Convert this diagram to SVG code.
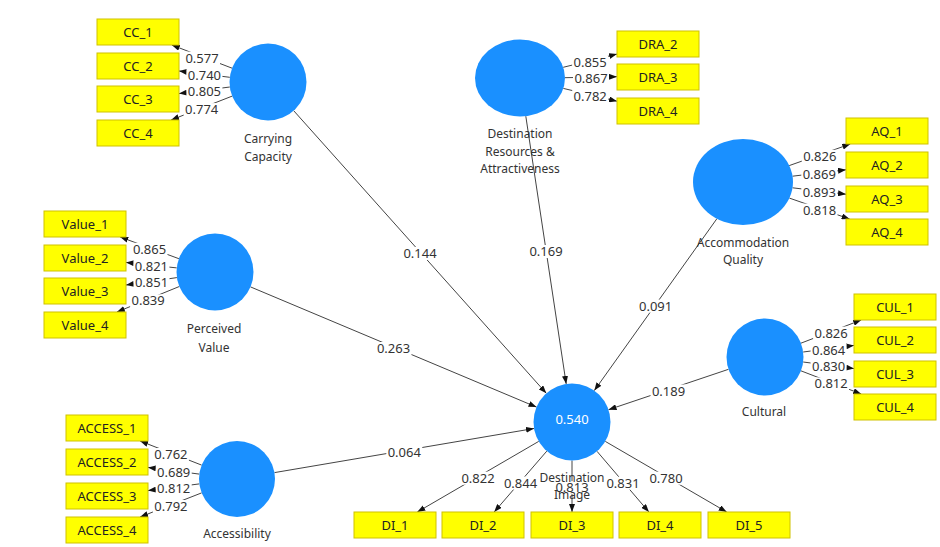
<svg xmlns="http://www.w3.org/2000/svg" width="940" height="547" viewBox="0 0 940 547">
<defs>
<marker id="ah" viewBox="0 0 8 6" refX="8" refY="3" markerWidth="8" markerHeight="6" markerUnits="userSpaceOnUse" orient="auto"><path d="M0,0 L8,3 L0,6 z" fill="#111"/></marker>
</defs>
<style>
.c{stroke:#444;stroke-width:1;fill:none;marker-end:url(#ah)}
.lb{fill:#fff}
.lt{font-family:"Segoe UI","Noto Sans",sans-serif;font-size:13px;fill:#333;text-anchor:middle}
.lv{fill:#1a90ff}
.ind{fill:#ffff00;stroke:#cfc200;stroke-width:1}
.it{font-family:"Segoe UI","Noto Sans",sans-serif;font-size:13px;fill:#222;text-anchor:middle}
.nt{font-family:"Segoe UI","Noto Sans",sans-serif;font-size:12px;fill:#333;text-anchor:middle}
.r2{font-family:"Segoe UI","Noto Sans",sans-serif;font-size:13px;fill:#fff;text-anchor:middle}
</style>
<rect width="940" height="547" fill="#fff"/>
<g id="connectors">
<line class="c" x1="232.1" y1="68.2" x2="171.8" y2="45"/>
<line class="c" x1="229.8" y1="77.3" x2="179" y2="71"/>
<line class="c" x1="229.8" y1="87" x2="179" y2="93.6"/>
<line class="c" x1="232.2" y1="96.1" x2="171.1" y2="120"/>
<line class="c" x1="563.2" y1="67.3" x2="617" y2="54.1"/>
<line class="c" x1="565" y1="77.7" x2="617" y2="76.7"/>
<line class="c" x1="563.3" y1="88.4" x2="617" y2="101.2"/>
<line class="c" x1="789.2" y1="165.6" x2="850.3" y2="144"/>
<line class="c" x1="792.5" y1="176.2" x2="846" y2="169.8"/>
<line class="c" x1="792.5" y1="187.8" x2="846" y2="194.2"/>
<line class="c" x1="789.4" y1="198.1" x2="849.6" y2="219"/>
<line class="c" x1="178.9" y1="258.7" x2="120.2" y2="237"/>
<line class="c" x1="176.7" y1="267.9" x2="126" y2="262.4"/>
<line class="c" x1="176.9" y1="277.6" x2="126" y2="285"/>
<line class="c" x1="179.3" y1="286.5" x2="116.9" y2="312"/>
<line class="c" x1="800.9" y1="343.2" x2="861.2" y2="320"/>
<line class="c" x1="803.2" y1="352" x2="854" y2="345.4"/>
<line class="c" x1="803.2" y1="362" x2="854" y2="368.6"/>
<line class="c" x1="800.9" y1="370.8" x2="861.2" y2="394"/>
<line class="c" x1="201.6" y1="465.1" x2="140.1" y2="441"/>
<line class="c" x1="199.3" y1="474.1" x2="148" y2="467.4"/>
<line class="c" x1="199.3" y1="483.9" x2="148" y2="490.6"/>
<line class="c" x1="201.6" y1="492.9" x2="140.1" y2="517"/>
<line class="c" x1="538.7" y1="441.4" x2="417.3" y2="512"/>
<line class="c" x1="546.8" y1="451.1" x2="494.2" y2="512"/>
<line class="c" x1="572" y1="460.5" x2="572" y2="512"/>
<line class="c" x1="597" y1="451.3" x2="648.9" y2="512"/>
<line class="c" x1="605.3" y1="441.4" x2="726.7" y2="512"/>
<line class="c" x1="293.7" y1="110.7" x2="546.3" y2="393.3"/>
<line class="c" x1="525.8" y1="116.2" x2="566.2" y2="383.9"/>
<line class="c" x1="716.9" y1="218.7" x2="594.3" y2="390.6"/>
<line class="c" x1="250.5" y1="286.9" x2="536.5" y2="407.1"/>
<line class="c" x1="728.5" y1="369.3" x2="608.5" y2="409.7"/>
<line class="c" x1="274.5" y1="472.6" x2="534" y2="428.5"/>
<g id="connector-labels">
<rect class="lb" x="184" y="51.6" width="36" height="13"/><text class="lt" x="202" y="62.6">0.577</text>
<rect class="lb" x="186.4" y="69.2" width="36" height="13"/><text class="lt" x="204.4" y="80.2">0.740</text>
<rect class="lb" x="186.4" y="85.3" width="36" height="13"/><text class="lt" x="204.4" y="96.3">0.805</text>
<rect class="lb" x="183.7" y="103.1" width="36" height="13"/><text class="lt" x="201.7" y="114.1">0.774</text>
<rect class="lb" x="572.1" y="55.7" width="36" height="13"/><text class="lt" x="590.1" y="66.7">0.855</text>
<rect class="lb" x="573" y="72.2" width="36" height="13"/><text class="lt" x="591" y="83.2">0.867</text>
<rect class="lb" x="572.2" y="89.8" width="36" height="13"/><text class="lt" x="590.2" y="100.8">0.782</text>
<rect class="lb" x="801.8" y="149.8" width="36" height="13"/><text class="lt" x="819.8" y="160.8">0.826</text>
<rect class="lb" x="801.3" y="168" width="36" height="13"/><text class="lt" x="819.3" y="179">0.869</text>
<rect class="lb" x="801.3" y="186" width="36" height="13"/><text class="lt" x="819.3" y="197">0.893</text>
<rect class="lb" x="801.5" y="203.6" width="36" height="13"/><text class="lt" x="819.5" y="214.6">0.818</text>
<rect class="lb" x="131.5" y="242.8" width="36" height="13"/><text class="lt" x="149.5" y="253.8">0.865</text>
<rect class="lb" x="133.4" y="260.2" width="36" height="13"/><text class="lt" x="151.4" y="271.2">0.821</text>
<rect class="lb" x="133.5" y="276.3" width="36" height="13"/><text class="lt" x="151.5" y="287.3">0.851</text>
<rect class="lb" x="130.1" y="294.3" width="36" height="13"/><text class="lt" x="148.1" y="305.3">0.839</text>
<rect class="lb" x="813.1" y="326.6" width="36" height="13"/><text class="lt" x="831.1" y="337.6">0.826</text>
<rect class="lb" x="810.6" y="343.7" width="36" height="13"/><text class="lt" x="828.6" y="354.7">0.864</text>
<rect class="lb" x="810.6" y="360.3" width="36" height="13"/><text class="lt" x="828.6" y="371.3">0.830</text>
<rect class="lb" x="813.1" y="377.4" width="36" height="13"/><text class="lt" x="831.1" y="388.4">0.812</text>
<rect class="lb" x="152.9" y="448" width="36" height="13"/><text class="lt" x="170.9" y="459">0.762</text>
<rect class="lb" x="155.7" y="465.8" width="36" height="13"/><text class="lt" x="173.7" y="476.8">0.689</text>
<rect class="lb" x="155.7" y="482.2" width="36" height="13"/><text class="lt" x="173.7" y="493.2">0.812</text>
<rect class="lb" x="152.9" y="500" width="36" height="13"/><text class="lt" x="170.9" y="511">0.792</text>
<rect class="lb" x="460" y="471.7" width="36" height="13"/><text class="lt" x="478" y="482.7">0.822</text>
<rect class="lb" x="502.5" y="476.6" width="36" height="13"/><text class="lt" x="520.5" y="487.6">0.844</text>
<rect class="lb" x="554" y="481.2" width="36" height="13"/><text class="lt" x="572" y="492.2">0.813</text>
<rect class="lb" x="605" y="476.7" width="36" height="13"/><text class="lt" x="623" y="487.7">0.831</text>
<rect class="lb" x="648" y="471.7" width="36" height="13"/><text class="lt" x="666" y="482.7">0.780</text>
<rect class="lb" x="402" y="247" width="36" height="13"/><text class="lt" x="420" y="258">0.144</text>
<rect class="lb" x="528" y="245" width="36" height="13"/><text class="lt" x="546" y="256">0.169</text>
<rect class="lb" x="637.6" y="299.6" width="36" height="13"/><text class="lt" x="655.6" y="310.6">0.091</text>
<rect class="lb" x="375.5" y="342" width="36" height="13"/><text class="lt" x="393.5" y="353">0.263</text>
<rect class="lb" x="650.5" y="384.5" width="36" height="13"/><text class="lt" x="668.5" y="395.5">0.189</text>
<rect class="lb" x="386.3" y="445.5" width="36" height="13"/><text class="lt" x="404.3" y="456.5">0.064</text>
</g>
</g>
<g id="carrying-capacity">
<circle class="lv" cx="268" cy="82" r="38.5"/>
<text class="nt" x="268" y="143">Carrying</text><text class="nt" x="268" y="161">Capacity</text>
</g>
<g id="CC_1"><rect class="ind" x="97" y="19" width="82" height="26"/><text class="it" x="138" y="37">CC_1</text></g>
<g id="CC_2"><rect class="ind" x="97" y="53" width="82" height="26"/><text class="it" x="138" y="71">CC_2</text></g>
<g id="CC_3"><rect class="ind" x="97" y="86" width="82" height="26"/><text class="it" x="138" y="104">CC_3</text></g>
<g id="CC_4"><rect class="ind" x="97" y="120" width="82" height="26"/><text class="it" x="138" y="138">CC_4</text></g>
<g id="destination-resources">
<ellipse class="lv" cx="520" cy="78" rx="45" ry="38.5"/>
<text class="nt" x="520" y="138">Destination</text><text class="nt" x="520" y="156">Resources &amp;</text><text class="nt" x="520" y="173">Attractiveness</text>
</g>
<g id="DRA_2"><rect class="ind" x="617" y="31" width="82" height="26"/><text class="it" x="658" y="49">DRA_2</text></g>
<g id="DRA_3"><rect class="ind" x="617" y="64" width="82" height="26"/><text class="it" x="658" y="82">DRA_3</text></g>
<g id="DRA_4"><rect class="ind" x="617" y="98" width="82" height="26"/><text class="it" x="658" y="116">DRA_4</text></g>
<g id="accommodation-quality">
<ellipse class="lv" cx="743" cy="182" rx="50" ry="43"/>
<text class="nt" x="743" y="247">Accommodation</text><text class="nt" x="743" y="264">Quality</text>
</g>
<g id="AQ_1"><rect class="ind" x="846" y="118" width="82" height="26"/><text class="it" x="887" y="136">AQ_1</text></g>
<g id="AQ_2"><rect class="ind" x="846" y="152" width="82" height="26"/><text class="it" x="887" y="170">AQ_2</text></g>
<g id="AQ_3"><rect class="ind" x="846" y="186" width="82" height="26"/><text class="it" x="887" y="204">AQ_3</text></g>
<g id="AQ_4"><rect class="ind" x="846" y="219" width="82" height="26"/><text class="it" x="887" y="237">AQ_4</text></g>
<g id="perceived-value">
<circle class="lv" cx="215" cy="272" r="38.5"/>
<text class="nt" x="214" y="333">Perceived</text><text class="nt" x="214" y="352">Value</text>
</g>
<g id="Value_1"><rect class="ind" x="44" y="211" width="82" height="26"/><text class="it" x="85" y="229">Value_1</text></g>
<g id="Value_2"><rect class="ind" x="44" y="245" width="82" height="26"/><text class="it" x="85" y="263">Value_2</text></g>
<g id="Value_3"><rect class="ind" x="44" y="278" width="82" height="26"/><text class="it" x="85" y="296">Value_3</text></g>
<g id="Value_4"><rect class="ind" x="44" y="312" width="82" height="26"/><text class="it" x="85" y="330">Value_4</text></g>
<g id="cultural">
<circle class="lv" cx="765" cy="357" r="38.5"/>
<text class="nt" x="764" y="416">Cultural</text>
</g>
<g id="CUL_1"><rect class="ind" x="854" y="294" width="82" height="26"/><text class="it" x="895" y="312">CUL_1</text></g>
<g id="CUL_2"><rect class="ind" x="854" y="327" width="82" height="26"/><text class="it" x="895" y="345">CUL_2</text></g>
<g id="CUL_3"><rect class="ind" x="854" y="361" width="82" height="26"/><text class="it" x="895" y="379">CUL_3</text></g>
<g id="CUL_4"><rect class="ind" x="854" y="394" width="82" height="26"/><text class="it" x="895" y="412">CUL_4</text></g>
<g id="accessibility">
<circle class="lv" cx="237" cy="479" r="38"/>
<text class="nt" x="237" y="538">Accessibility</text>
</g>
<g id="ACCESS_1"><rect class="ind" x="66" y="415" width="82" height="26"/><text class="it" x="107" y="433">ACCESS_1</text></g>
<g id="ACCESS_2"><rect class="ind" x="66" y="449" width="82" height="26"/><text class="it" x="107" y="467">ACCESS_2</text></g>
<g id="ACCESS_3"><rect class="ind" x="66" y="483" width="82" height="26"/><text class="it" x="107" y="501">ACCESS_3</text></g>
<g id="ACCESS_4"><rect class="ind" x="66" y="517" width="82" height="26"/><text class="it" x="107" y="535">ACCESS_4</text></g>
<g id="destination-image">
<circle class="lv" cx="572" cy="422" r="38.5"/>
<text class="r2" x="572" y="424">0.540</text>
<text class="nt" x="572" y="482">Destination</text><text class="nt" x="572" y="499">Image</text>
</g>
<g id="DI_1"><rect class="ind" x="354" y="512" width="82" height="26"/><text class="it" x="395" y="530">DI_1</text></g>
<g id="DI_2"><rect class="ind" x="442" y="512" width="82" height="26"/><text class="it" x="483" y="530">DI_2</text></g>
<g id="DI_3"><rect class="ind" x="531" y="512" width="82" height="26"/><text class="it" x="572" y="530">DI_3</text></g>
<g id="DI_4"><rect class="ind" x="619" y="512" width="82" height="26"/><text class="it" x="660" y="530">DI_4</text></g>
<g id="DI_5"><rect class="ind" x="708" y="512" width="82" height="26"/><text class="it" x="749" y="530">DI_5</text></g>
</svg>
